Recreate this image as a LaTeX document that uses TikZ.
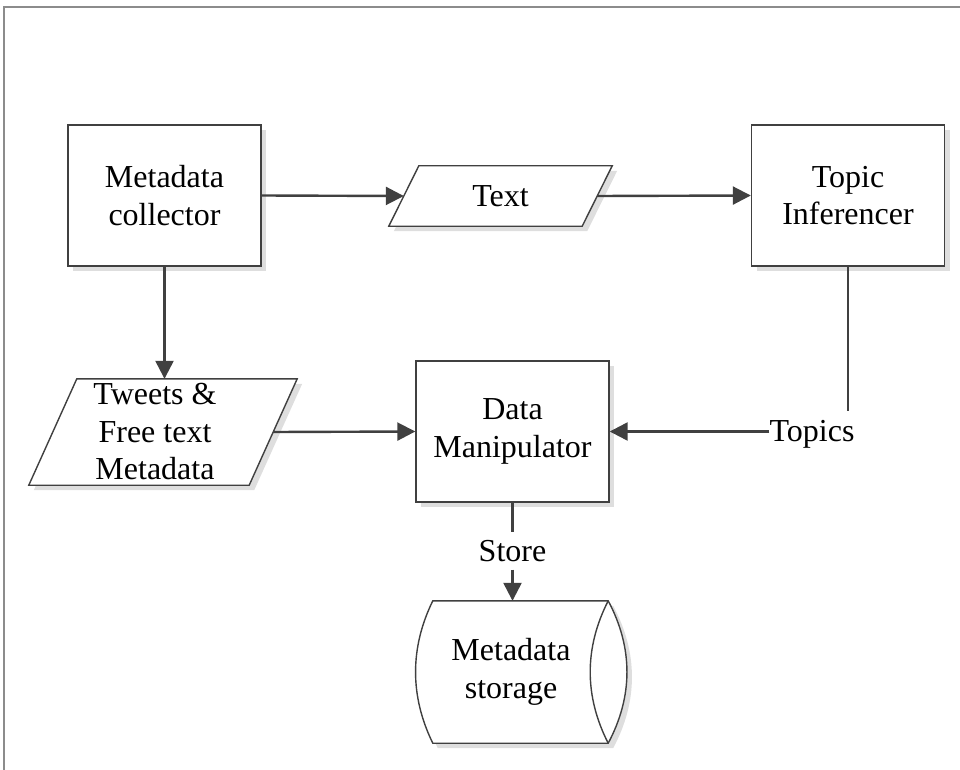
\documentclass[tikz,border=0pt]{standalone}
\usepackage{fontspec}
\setmainfont{Liberation Serif}
\usetikzlibrary{arrows.meta,shadows,backgrounds}
\definecolor{ink}{HTML}{404040}
\definecolor{shade}{HTML}{DEDEDE}
\definecolor{framec}{HTML}{8C8C8C}

\begin{document}
\begin{tikzpicture}[x=1pt,y=-1pt,
  every node/.style={font=\fontsize{32}{37.5}\selectfont, align=center},
  shadowed/.style={drop shadow={shadow xshift=5pt,shadow yshift=-5pt,fill=shade,opacity=1}},
  procbox/.style={draw=ink, line width=1.4pt, fill=white, shadowed,
    minimum width=193pt, minimum height=141pt, inner sep=0pt},
  ghost/.style={inner sep=0pt},
  outline/.style={draw=ink, line width=1.4pt, fill=white, shadowed, line join=miter},
  flow/.style={draw=ink, line width=2.4pt, -{Triangle[length=18pt,width=18pt]}},
  link/.style={draw=ink, line width=2.4pt}]

\useasboundingbox (0,0) rectangle (960,770);

% sheet border (top and left edges)
\draw[framec, line width=1.5pt] (4,770) -- (4,7) -- (960,7);

% process boxes
\node[procbox] (mc) at (164.5,195.5) {Metadata\\collector};
\node[procbox] (ti) at (848,195.5) {Topic\\Inferencer};
\node[procbox] (dm) at (512.5,431.5) {Data\\Manipulator};

% data (parallelogram) shapes: the nodes span the mid-line of each shape
\node[ghost, minimum width=193pt, minimum height=60pt] (txt) at (500.5,196) {Text};
\node[ghost, minimum width=220pt, minimum height=106pt] (tw) at (163,432) {};
\node (twlabel) at (155,432) {Tweets \&\\Free text\\Metadata};

% stored data shape
\node[ghost, minimum width=175pt, minimum height=142pt] (st) at (520.5,672) {};
\node (stlabel) at (511,672) {Metadata\\storage};

\begin{scope}[on background layer]
  \path[outline] ([xshift=15pt]txt.north west) -- ([xshift=15pt]txt.north east)
    -- ([xshift=-15pt]txt.south east) -- ([xshift=-15pt]txt.south west) -- cycle;
  \path[outline] ([xshift=24pt]tw.north west) -- ([xshift=24pt]tw.north east)
    -- ([xshift=-24pt]tw.south east) -- ([xshift=-24pt]tw.south west) -- cycle;
  \path[outline] (st.north west) -- (st.north east)
    .. controls ([xshift=25pt,yshift=-47pt]st.north east)
       and ([xshift=25pt,yshift=47pt]st.south east) .. (st.south east)
    -- (st.south west)
    .. controls ([xshift=-23pt,yshift=47pt]st.south west)
       and ([xshift=-23pt,yshift=-47pt]st.north west) .. (st.north west)
    -- cycle;
  \draw[ink, line width=1.4pt] (st.north east)
    .. controls ([xshift=-24pt,yshift=-47pt]st.north east)
       and ([xshift=-24pt,yshift=47pt]st.south east) .. (st.south east);
\end{scope}

% connector labels
\node[anchor=base, inner xsep=0pt, inner ysep=9pt] (topics) at (812,441) {Topics};
\node[anchor=base, inner ysep=8pt] (store) at (512.5,561) {Store};

% connectors
\draw[flow] (mc.east) -- (txt.west);
\draw[flow] (txt.east) -- (ti.west);
\draw[flow] (mc.south) -- (mc.south |- tw.north);
\draw[flow] (tw.east) -- (dm.west);
\draw[link] (ti.south) -- (ti.south |- topics.north);
\draw[flow] (dm.east -| topics.west) -- (dm.east);
\draw[link] (dm.south) -- (store.north);
\draw[flow] (store.south) -- (dm.south |- st.north);
\end{tikzpicture}
\end{document}
